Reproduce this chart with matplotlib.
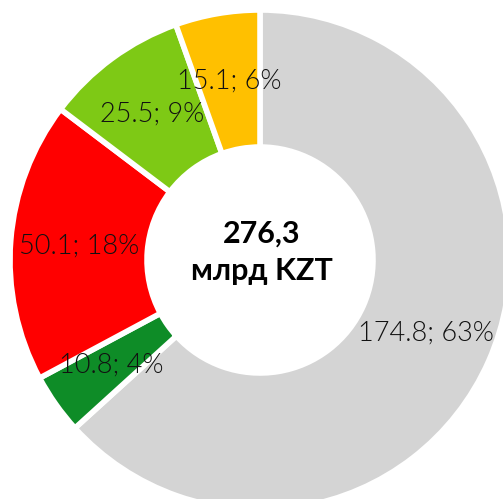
import numpy as np
import matplotlib
matplotlib.use('Agg')
import matplotlib.pyplot as plt

# donut data (billion KZT), clockwise from 12 o'clock
values = [174.8, 10.8, 50.1, 25.5, 15.1]
percents = [63, 4, 18, 9, 6]
colors = ['#D4D4D4', '#0E8C27', '#FF0000', '#7EC915', '#FFC000']
total_label = '276,3\nмлрд KZT'

plt.rcParams['font.family'] = ['Lato', 'DejaVu Sans']

fig = plt.figure(figsize=(5.03, 4.99), dpi=100)
ax = fig.add_axes([0, 0, 1, 1])

cx, cy = 260, 239
r_out, r_in = 250, 113

wedges, _ = ax.pie(values, colors=colors, startangle=90, counterclock=False,
                   center=(cx, cy), radius=r_out, frame=True,
                   wedgeprops=dict(width=r_out - r_in, edgecolor='white', linewidth=4))

# labels in the middle of the ring
r_mid = (r_out + r_in) / 2
for w, v, p in zip(wedges, values, percents):
    ang = np.deg2rad((w.theta1 + w.theta2) / 2)
    ax.text(cx + r_mid * np.cos(ang), cy + r_mid * np.sin(ang), f'{v}; {p}%',
            ha='center', va='center', fontsize=19.5, fontweight=300, color='#111111')

ax.text(cx + 2, cy + 8, total_label, ha='center', va='center', fontsize=22,
        fontweight='bold', color='black', linespacing=1.4)

ax.set_xlim(0, 503)
ax.set_ylim(0, 499)
ax.set_aspect('auto')
ax.axis('off')

fig.savefig('out.png', dpi=100)
